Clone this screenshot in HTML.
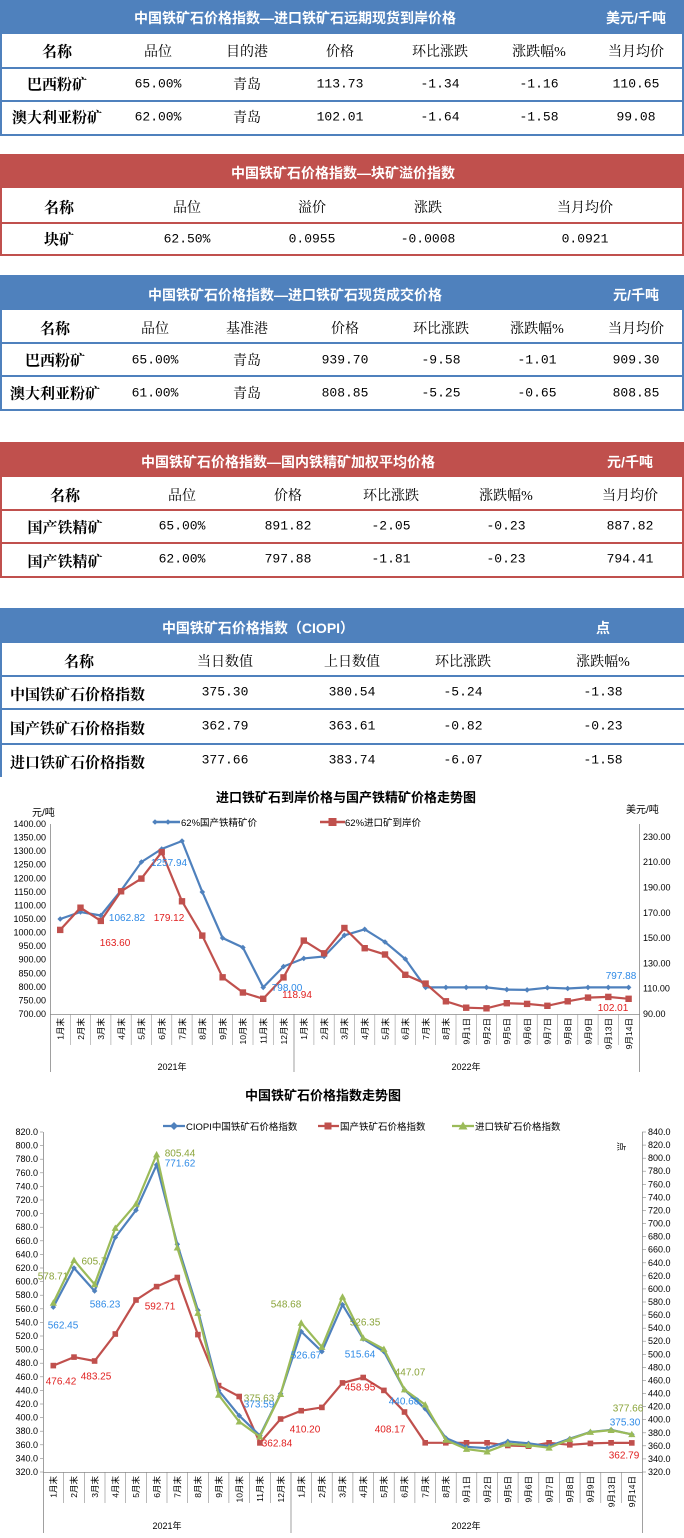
<!DOCTYPE html>
<html><head><meta charset="utf-8">
<style>
body{margin:0;width:684px;height:1538px;background:#fff;position:relative;overflow:hidden;font-family:"Liberation Serif","Noto Serif CJK SC",serif;}
.c{position:absolute;transform:translate(-50%,-50%);white-space:nowrap;font-size:14px;color:#000;}
.n{font-family:"Liberation Mono","Noto Serif CJK SC",monospace;font-size:13px;}
.b{font-weight:bold;font-size:15px;}
.l{position:absolute;transform:translateY(-50%);white-space:nowrap;font-weight:bold;font-size:15px;}
.bar{position:absolute;left:0;width:684px;}
.w{color:#fff;font-weight:bold;font-family:"Liberation Sans","Noto Sans CJK SC",sans-serif;font-size:14px;}
.h{position:absolute;left:0;width:684px;height:1.5px;}
.v{position:absolute;width:1.5px;}
svg{position:absolute;left:0;top:0;}
</style></head><body>

<!-- Table 1 -->
<div class="bar" style="top:0;height:34px;background:#4f81bd"></div>
<div class="c w" style="left:295px;top:18px">中国铁矿石价格指数—进口铁矿石远期现货到岸价格</div>
<div class="c w" style="left:636px;top:18px">美元/千吨</div>
<div class="v" style="left:0;top:34px;height:101px;background:#4f81bd"></div>
<div class="v" style="left:682px;top:34px;height:101px;background:#4f81bd"></div>
<div class="h" style="top:67px;background:#4f81bd"></div>
<div class="h" style="top:100px;background:#4f81bd"></div>
<div class="h" style="top:134px;background:#4f81bd"></div>
<div class="c b" style="left:57px;top:51px">名称</div>
<div class="c" style="left:158px;top:51px">品位</div>
<div class="c" style="left:247px;top:51px">目的港</div>
<div class="c" style="left:340px;top:51px">价格</div>
<div class="c" style="left:440px;top:51px">环比涨跌</div>
<div class="c" style="left:539px;top:51px">涨跌幅%</div>
<div class="c" style="left:636px;top:51px">当月均价</div>
<div class="c b" style="left:57px;top:84px">巴西粉矿</div>
<div class="c n" style="left:158px;top:84px">65.00%</div>
<div class="c" style="left:247px;top:84px">青岛</div>
<div class="c n" style="left:340px;top:84px">113.73</div>
<div class="c n" style="left:440px;top:84px">-1.34</div>
<div class="c n" style="left:539px;top:84px">-1.16</div>
<div class="c n" style="left:636px;top:84px">110.65</div>
<div class="c b" style="left:57px;top:117px">澳大利亚粉矿</div>
<div class="c n" style="left:158px;top:117px">62.00%</div>
<div class="c" style="left:247px;top:117px">青岛</div>
<div class="c n" style="left:340px;top:117px">102.01</div>
<div class="c n" style="left:440px;top:117px">-1.64</div>
<div class="c n" style="left:539px;top:117px">-1.58</div>
<div class="c n" style="left:636px;top:117px">99.08</div>

<!-- Table 2 -->
<div class="bar" style="top:154px;height:34px;background:#c0504d"></div>
<div class="c w" style="left:343px;top:173px">中国铁矿石价格指数—块矿溢价指数</div>
<div class="v" style="left:0;top:188px;height:68px;background:#c0504d"></div>
<div class="v" style="left:682px;top:188px;height:68px;background:#c0504d"></div>
<div class="h" style="top:222px;background:#c0504d"></div>
<div class="h" style="top:254px;background:#c0504d"></div>
<div class="c b" style="left:59px;top:207px">名称</div>
<div class="c" style="left:187px;top:207px">品位</div>
<div class="c" style="left:312px;top:207px">溢价</div>
<div class="c" style="left:428px;top:207px">涨跌</div>
<div class="c" style="left:585px;top:207px">当月均价</div>
<div class="c b" style="left:59px;top:239px">块矿</div>
<div class="c n" style="left:187px;top:239px">62.50%</div>
<div class="c n" style="left:312px;top:239px">0.0955</div>
<div class="c n" style="left:428px;top:239px">-0.0008</div>
<div class="c n" style="left:585px;top:239px">0.0921</div>

<!-- Table 3 -->
<div class="bar" style="top:275px;height:35px;background:#4f81bd"></div>
<div class="c w" style="left:295px;top:295px">中国铁矿石价格指数—进口铁矿石现货成交价格</div>
<div class="c w" style="left:636px;top:295px">元/千吨</div>
<div class="v" style="left:0;top:310px;height:100px;background:#4f81bd"></div>
<div class="v" style="left:682px;top:310px;height:100px;background:#4f81bd"></div>
<div class="h" style="top:342px;background:#4f81bd"></div>
<div class="h" style="top:375px;background:#4f81bd"></div>
<div class="h" style="top:409px;background:#4f81bd"></div>
<div class="c b" style="left:55px;top:328px">名称</div>
<div class="c" style="left:155px;top:328px">品位</div>
<div class="c" style="left:247px;top:328px">基准港</div>
<div class="c" style="left:345px;top:328px">价格</div>
<div class="c" style="left:441px;top:328px">环比涨跌</div>
<div class="c" style="left:537px;top:328px">涨跌幅%</div>
<div class="c" style="left:636px;top:328px">当月均价</div>
<div class="c b" style="left:55px;top:360px">巴西粉矿</div>
<div class="c n" style="left:155px;top:360px">65.00%</div>
<div class="c" style="left:247px;top:360px">青岛</div>
<div class="c n" style="left:345px;top:360px">939.70</div>
<div class="c n" style="left:441px;top:360px">-9.58</div>
<div class="c n" style="left:537px;top:360px">-1.01</div>
<div class="c n" style="left:636px;top:360px">909.30</div>
<div class="c b" style="left:55px;top:393px">澳大利亚粉矿</div>
<div class="c n" style="left:155px;top:393px">61.00%</div>
<div class="c" style="left:247px;top:393px">青岛</div>
<div class="c n" style="left:345px;top:393px">808.85</div>
<div class="c n" style="left:441px;top:393px">-5.25</div>
<div class="c n" style="left:537px;top:393px">-0.65</div>
<div class="c n" style="left:636px;top:393px">808.85</div>

<!-- Table 4 -->
<div class="bar" style="top:442px;height:35px;background:#c0504d"></div>
<div class="c w" style="left:288px;top:462px">中国铁矿石价格指数—国内铁精矿加权平均价格</div>
<div class="c w" style="left:630px;top:462px">元/千吨</div>
<div class="v" style="left:0;top:477px;height:100px;background:#c0504d"></div>
<div class="v" style="left:682px;top:477px;height:100px;background:#c0504d"></div>
<div class="h" style="top:509px;background:#c0504d"></div>
<div class="h" style="top:542px;background:#c0504d"></div>
<div class="h" style="top:576px;background:#c0504d"></div>
<div class="c b" style="left:65px;top:495px">名称</div>
<div class="c" style="left:182px;top:495px">品位</div>
<div class="c" style="left:288px;top:495px">价格</div>
<div class="c" style="left:391px;top:495px">环比涨跌</div>
<div class="c" style="left:506px;top:495px">涨跌幅%</div>
<div class="c" style="left:630px;top:495px">当月均价</div>
<div class="c b" style="left:65px;top:527px">国产铁精矿</div>
<div class="c n" style="left:182px;top:526px">65.00%</div>
<div class="c n" style="left:288px;top:526px">891.82</div>
<div class="c n" style="left:391px;top:526px">-2.05</div>
<div class="c n" style="left:506px;top:526px">-0.23</div>
<div class="c n" style="left:630px;top:526px">887.82</div>
<div class="c b" style="left:65px;top:561px">国产铁精矿</div>
<div class="c n" style="left:182px;top:559px">62.00%</div>
<div class="c n" style="left:288px;top:559px">797.88</div>
<div class="c n" style="left:391px;top:559px">-1.81</div>
<div class="c n" style="left:506px;top:559px">-0.23</div>
<div class="c n" style="left:630px;top:559px">794.41</div>

<!-- Table 5 -->
<div class="bar" style="top:608px;height:35px;background:#4f81bd"></div>
<div class="c w" style="left:258px;top:628px">中国铁矿石价格指数（CIOPI）</div>
<div class="c w" style="left:603px;top:628px">点</div>
<div class="v" style="left:0;top:643px;height:134px;background:#4f81bd"></div>
<div class="h" style="top:675px;background:#4f81bd"></div>
<div class="h" style="top:708px;background:#4f81bd"></div>
<div class="h" style="top:743px;background:#4f81bd"></div>
<div class="c b" style="left:79px;top:661px">名称</div>
<div class="c" style="left:225px;top:661px">当日数值</div>
<div class="c" style="left:352px;top:661px">上日数值</div>
<div class="c" style="left:463px;top:661px">环比涨跌</div>
<div class="c" style="left:603px;top:661px">涨跌幅%</div>
<div class="l" style="left:10px;top:694px">中国铁矿石价格指数</div>
<div class="c n" style="left:225px;top:692px">375.30</div>
<div class="c n" style="left:352px;top:692px">380.54</div>
<div class="c n" style="left:463px;top:692px">-5.24</div>
<div class="c n" style="left:603px;top:692px">-1.38</div>
<div class="l" style="left:10px;top:728px">国产铁矿石价格指数</div>
<div class="c n" style="left:225px;top:726px">362.79</div>
<div class="c n" style="left:352px;top:726px">363.61</div>
<div class="c n" style="left:463px;top:726px">-0.82</div>
<div class="c n" style="left:603px;top:726px">-0.23</div>
<div class="l" style="left:10px;top:762px">进口铁矿石价格指数</div>
<div class="c n" style="left:225px;top:760px">377.66</div>
<div class="c n" style="left:352px;top:760px">383.74</div>
<div class="c n" style="left:463px;top:760px">-6.07</div>
<div class="c n" style="left:603px;top:760px">-1.58</div>

<svg width="684" height="1538" viewBox="0 0 684 1538" font-family="'Liberation Sans','Noto Sans CJK SC',sans-serif">
<defs>
<marker id="dia" viewBox="-5 -5 10 10" markerWidth="7" markerHeight="7" markerUnits="userSpaceOnUse"><path d="M0-4L4 0 0 4-4 0Z" fill="#4f81bd"/></marker>
<marker id="sq" viewBox="-5 -5 10 10" markerWidth="8" markerHeight="8" markerUnits="userSpaceOnUse"><rect x="-4" y="-4" width="8" height="8" fill="#c0504d"/></marker>
<marker id="sq2" viewBox="-5 -5 10 10" markerWidth="7" markerHeight="7" markerUnits="userSpaceOnUse"><rect x="-4" y="-4" width="8" height="8" fill="#c0504d"/></marker>
<marker id="tri" viewBox="-5 -5 10 10" markerWidth="8" markerHeight="8" markerUnits="userSpaceOnUse"><path d="M0-4.5L4.5 3.5-4.5 3.5Z" fill="#9bbb59"/></marker>
</defs>

<!-- Chart 1 -->
<text x="346" y="802" text-anchor="middle" font-size="13" font-weight="bold">进口铁矿石到岸价格与国产铁精矿价格走势图</text>
<text x="32" y="816" font-size="10">元/吨</text>
<text x="626" y="813" font-size="10">美元/吨</text>
<line x1="155" y1="822" x2="180" y2="822" stroke="#4f81bd" stroke-width="2.5" marker-mid="url(#dia)" marker-start="url(#dia)"/>
<line x1="155" y1="822" x2="168" y2="822" stroke="none" marker-end="url(#dia)"/>
<text x="181" y="826" font-size="9.5">62%国产铁精矿价</text>
<line x1="320" y1="822" x2="345" y2="822" stroke="#c0504d" stroke-width="2.5"/>
<rect x="328.5" y="818" width="8" height="8" fill="#c0504d"/>
<text x="345" y="826" font-size="9.5">62%进口矿到岸价</text>
<g stroke="#888" stroke-width="0.8" fill="none">
<line x1="50.5" y1="824" x2="50.5" y2="1072"/>
<line x1="639.5" y1="824" x2="639.5" y2="1072"/>
<line x1="50" y1="1014.5" x2="640" y2="1014.5"/>
<line x1="294" y1="1014" x2="294" y2="1072"/>
</g>
<g stroke="#999" stroke-width="0.6">
<line x1="70.3" y1="1014" x2="70.3" y2="1045"/><line x1="90.6" y1="1014" x2="90.6" y2="1045"/><line x1="110.9" y1="1014" x2="110.9" y2="1045"/><line x1="131.2" y1="1014" x2="131.2" y2="1045"/><line x1="151.5" y1="1014" x2="151.5" y2="1045"/><line x1="171.8" y1="1014" x2="171.8" y2="1045"/><line x1="192.1" y1="1014" x2="192.1" y2="1045"/><line x1="212.4" y1="1014" x2="212.4" y2="1045"/><line x1="232.7" y1="1014" x2="232.7" y2="1045"/><line x1="253" y1="1014" x2="253" y2="1045"/><line x1="273.3" y1="1014" x2="273.3" y2="1045"/><line x1="313.9" y1="1014" x2="313.9" y2="1045"/><line x1="334.2" y1="1014" x2="334.2" y2="1045"/><line x1="354.5" y1="1014" x2="354.5" y2="1045"/><line x1="374.8" y1="1014" x2="374.8" y2="1045"/><line x1="395.1" y1="1014" x2="395.1" y2="1045"/><line x1="415.4" y1="1014" x2="415.4" y2="1045"/><line x1="435.7" y1="1014" x2="435.7" y2="1045"/><line x1="456" y1="1014" x2="456" y2="1045"/><line x1="476.3" y1="1014" x2="476.3" y2="1045"/><line x1="496.6" y1="1014" x2="496.6" y2="1045"/><line x1="516.9" y1="1014" x2="516.9" y2="1045"/><line x1="537.2" y1="1014" x2="537.2" y2="1045"/><line x1="557.5" y1="1014" x2="557.5" y2="1045"/><line x1="577.8" y1="1014" x2="577.8" y2="1045"/><line x1="598.1" y1="1014" x2="598.1" y2="1045"/><line x1="618.4" y1="1014" x2="618.4" y2="1045"/>
</g>
<g font-size="9" text-anchor="end">
<text x="46" y="1017">700.00</text><text x="46" y="1003.4">750.00</text><text x="46" y="989.9">800.00</text><text x="46" y="976.3">850.00</text><text x="46" y="962.7">900.00</text><text x="46" y="949.2">950.00</text><text x="46" y="935.6">1000.00</text><text x="46" y="922">1050.00</text><text x="46" y="908.4">1100.00</text><text x="46" y="894.9">1150.00</text><text x="46" y="881.3">1200.00</text><text x="46" y="867.7">1250.00</text><text x="46" y="854.2">1300.00</text><text x="46" y="840.6">1350.00</text><text x="46" y="827">1400.00</text>
</g>
<g font-size="9">
<text x="643" y="1017">90.00</text><text x="643" y="991.7">110.00</text><text x="643" y="966.4">130.00</text><text x="643" y="941.1">150.00</text><text x="643" y="915.8">170.00</text><text x="643" y="890.5">190.00</text><text x="643" y="865.2">210.00</text><text x="643" y="839.9">230.00</text>
</g>
<g font-size="8.5" text-anchor="end">
<text transform="translate(63.5,1018) rotate(-90)">1月末</text><text transform="translate(83.8,1018) rotate(-90)">2月末</text><text transform="translate(104.1,1018) rotate(-90)">3月末</text><text transform="translate(124.4,1018) rotate(-90)">4月末</text><text transform="translate(144.7,1018) rotate(-90)">5月末</text><text transform="translate(165,1018) rotate(-90)">6月末</text><text transform="translate(185.3,1018) rotate(-90)">7月末</text><text transform="translate(205.6,1018) rotate(-90)">8月末</text><text transform="translate(225.9,1018) rotate(-90)">9月末</text><text transform="translate(246.2,1018) rotate(-90)">10月末</text><text transform="translate(266.5,1018) rotate(-90)">11月末</text><text transform="translate(286.8,1018) rotate(-90)">12月末</text>
<text transform="translate(307.1,1018) rotate(-90)">1月末</text><text transform="translate(327.4,1018) rotate(-90)">2月末</text><text transform="translate(347.7,1018) rotate(-90)">3月末</text><text transform="translate(368,1018) rotate(-90)">4月末</text><text transform="translate(388.3,1018) rotate(-90)">5月末</text><text transform="translate(408.6,1018) rotate(-90)">6月末</text><text transform="translate(428.9,1018) rotate(-90)">7月末</text><text transform="translate(449.2,1018) rotate(-90)">8月末</text><text transform="translate(469.5,1018) rotate(-90)">9月1日</text><text transform="translate(489.8,1018) rotate(-90)">9月2日</text><text transform="translate(510.1,1018) rotate(-90)">9月5日</text><text transform="translate(530.4,1018) rotate(-90)">9月6日</text><text transform="translate(550.7,1018) rotate(-90)">9月7日</text><text transform="translate(571,1018) rotate(-90)">9月8日</text><text transform="translate(591.3,1018) rotate(-90)">9月9日</text><text transform="translate(611.6,1018) rotate(-90)">9月13日</text><text transform="translate(631.9,1018) rotate(-90)">9月14日</text>
</g>
<text x="172" y="1070" font-size="9" text-anchor="middle">2021年</text>
<text x="466" y="1070" font-size="9" text-anchor="middle">2022年</text>
<polyline fill="none" stroke="#4f81bd" stroke-width="2.2" marker-start="url(#dia)" marker-mid="url(#dia)" marker-end="url(#dia)" points="60.2,919 80.5,912 100.8,915.5 121.1,890.5 141.4,862 161.7,849 182,841 202.3,892 222.6,938 242.9,947.5 263.2,987.4 283.5,966.5 303.8,958.4 324.1,956.5 344.4,935.3 364.7,929.3 385,942 405.3,959 425.6,987.4 445.9,987.4 466.2,987.4 486.5,987.4 506.8,989.6 527.1,989.9 547.4,987.7 567.7,988.5 588,987.4 608.3,987.4 628.6,987.4"/>
<polyline fill="none" stroke="#c0504d" stroke-width="2.2" marker-start="url(#sq)" marker-mid="url(#sq)" marker-end="url(#sq)" points="60.2,929.9 80.5,907.7 100.8,920.9 121.1,891.3 141.4,878.6 161.7,852.1 182,901.3 202.3,935.6 222.6,977.3 242.9,992.5 263.2,998.8 283.5,977.4 303.8,940.6 324.1,953.3 344.4,928 364.7,948.2 385,954.5 405.3,974.8 425.6,983.6 445.9,1001.3 466.2,1007.7 486.5,1008.3 506.8,1003.2 527.1,1003.9 547.4,1005.8 567.7,1001.3 588,997.6 608.3,996.9 628.6,998.8"/>
<g font-size="10" text-anchor="middle">
<text x="127" y="921" fill="#2e8ae6">1062.82</text>
<text x="169" y="866" fill="#2e8ae6">1257.94</text>
<text x="115" y="946" fill="#e02020">163.60</text>
<text x="169" y="921" fill="#e02020">179.12</text>
<text x="287" y="991" fill="#2e8ae6">798.00</text>
<text x="297" y="998" fill="#e02020">118.94</text>
<text x="621" y="979" fill="#2e8ae6">797.88</text>
<text x="613" y="1011" fill="#e02020">102.01</text>
</g>

<!-- Chart 2 -->
<text x="323" y="1100" text-anchor="middle" font-size="13" font-weight="bold">中国铁矿石价格指数走势图</text>
<line x1="163" y1="1126" x2="185" y2="1126" stroke="#4f81bd" stroke-width="2.2"/>
<path d="M174 1122L178 1126 174 1130 170 1126Z" fill="#4f81bd"/>
<text x="186" y="1130" font-size="9.5">CIOPI中国铁矿石价格指数</text>
<line x1="318" y1="1126" x2="339" y2="1126" stroke="#c0504d" stroke-width="2.2"/>
<rect x="324.5" y="1122.5" width="7" height="7" fill="#c0504d"/>
<text x="340" y="1130" font-size="9.5">国产铁矿石价格指数</text>
<line x1="452" y1="1126" x2="474" y2="1126" stroke="#9bbb59" stroke-width="2.2"/>
<path d="M463 1121.5L467.5 1129.5 458.5 1129.5Z" fill="#9bbb59"/>
<text x="475" y="1130" font-size="9.5">进口铁矿石价格指数</text>
<text transform="translate(618,1142) rotate(90)" font-size="9">点</text>
<g stroke="#888" stroke-width="0.8" fill="none">
<line x1="43.5" y1="1132" x2="43.5" y2="1533"/>
<line x1="642.5" y1="1132" x2="642.5" y2="1533"/>
<line x1="43" y1="1472.5" x2="643" y2="1472.5"/>
<line x1="291" y1="1472" x2="291" y2="1533"/>
</g>
<g stroke="#888" stroke-width="0.6">
<line x1="40" y1="1472" x2="43" y2="1472"/><line x1="40" y1="1458.4" x2="43" y2="1458.4"/><line x1="40" y1="1444.8" x2="43" y2="1444.8"/><line x1="40" y1="1431.2" x2="43" y2="1431.2"/><line x1="40" y1="1417.6" x2="43" y2="1417.6"/><line x1="40" y1="1404" x2="43" y2="1404"/><line x1="40" y1="1390.4" x2="43" y2="1390.4"/><line x1="40" y1="1376.8" x2="43" y2="1376.8"/><line x1="40" y1="1363.2" x2="43" y2="1363.2"/><line x1="40" y1="1349.6" x2="43" y2="1349.6"/><line x1="40" y1="1336" x2="43" y2="1336"/><line x1="40" y1="1322.4" x2="43" y2="1322.4"/><line x1="40" y1="1308.8" x2="43" y2="1308.8"/><line x1="40" y1="1295.2" x2="43" y2="1295.2"/><line x1="40" y1="1281.6" x2="43" y2="1281.6"/><line x1="40" y1="1268" x2="43" y2="1268"/><line x1="40" y1="1254.4" x2="43" y2="1254.4"/><line x1="40" y1="1240.8" x2="43" y2="1240.8"/><line x1="40" y1="1227.2" x2="43" y2="1227.2"/><line x1="40" y1="1213.6" x2="43" y2="1213.6"/><line x1="40" y1="1200" x2="43" y2="1200"/><line x1="40" y1="1186.4" x2="43" y2="1186.4"/><line x1="40" y1="1172.8" x2="43" y2="1172.8"/><line x1="40" y1="1159.2" x2="43" y2="1159.2"/><line x1="40" y1="1145.6" x2="43" y2="1145.6"/><line x1="40" y1="1132" x2="43" y2="1132"/>
<line x1="642" y1="1472" x2="646" y2="1472"/><line x1="642" y1="1458.9" x2="646" y2="1458.9"/><line x1="642" y1="1445.8" x2="646" y2="1445.8"/><line x1="642" y1="1432.8" x2="646" y2="1432.8"/><line x1="642" y1="1419.7" x2="646" y2="1419.7"/><line x1="642" y1="1406.6" x2="646" y2="1406.6"/><line x1="642" y1="1393.5" x2="646" y2="1393.5"/><line x1="642" y1="1380.5" x2="646" y2="1380.5"/><line x1="642" y1="1367.4" x2="646" y2="1367.4"/><line x1="642" y1="1354.3" x2="646" y2="1354.3"/><line x1="642" y1="1341.2" x2="646" y2="1341.2"/><line x1="642" y1="1328.2" x2="646" y2="1328.2"/><line x1="642" y1="1315.1" x2="646" y2="1315.1"/><line x1="642" y1="1302" x2="646" y2="1302"/><line x1="642" y1="1288.9" x2="646" y2="1288.9"/><line x1="642" y1="1275.8" x2="646" y2="1275.8"/><line x1="642" y1="1262.8" x2="646" y2="1262.8"/><line x1="642" y1="1249.7" x2="646" y2="1249.7"/><line x1="642" y1="1236.6" x2="646" y2="1236.6"/><line x1="642" y1="1223.5" x2="646" y2="1223.5"/><line x1="642" y1="1210.5" x2="646" y2="1210.5"/><line x1="642" y1="1197.4" x2="646" y2="1197.4"/><line x1="642" y1="1184.3" x2="646" y2="1184.3"/><line x1="642" y1="1171.2" x2="646" y2="1171.2"/><line x1="642" y1="1158.2" x2="646" y2="1158.2"/><line x1="642" y1="1145.1" x2="646" y2="1145.1"/><line x1="642" y1="1132" x2="646" y2="1132"/>
<line x1="63.7" y1="1472" x2="63.7" y2="1503"/><line x1="84.3" y1="1472" x2="84.3" y2="1503"/><line x1="105" y1="1472" x2="105" y2="1503"/><line x1="125.6" y1="1472" x2="125.6" y2="1503"/><line x1="146.3" y1="1472" x2="146.3" y2="1503"/><line x1="167" y1="1472" x2="167" y2="1503"/><line x1="187.6" y1="1472" x2="187.6" y2="1503"/><line x1="208.3" y1="1472" x2="208.3" y2="1503"/><line x1="228.9" y1="1472" x2="228.9" y2="1503"/><line x1="249.6" y1="1472" x2="249.6" y2="1503"/><line x1="270.3" y1="1472" x2="270.3" y2="1503"/><line x1="311.6" y1="1472" x2="311.6" y2="1503"/><line x1="332.2" y1="1472" x2="332.2" y2="1503"/><line x1="352.9" y1="1472" x2="352.9" y2="1503"/><line x1="373.5" y1="1472" x2="373.5" y2="1503"/><line x1="394.2" y1="1472" x2="394.2" y2="1503"/><line x1="414.9" y1="1472" x2="414.9" y2="1503"/><line x1="435.5" y1="1472" x2="435.5" y2="1503"/><line x1="456.2" y1="1472" x2="456.2" y2="1503"/><line x1="476.8" y1="1472" x2="476.8" y2="1503"/><line x1="497.5" y1="1472" x2="497.5" y2="1503"/><line x1="518.1" y1="1472" x2="518.1" y2="1503"/><line x1="538.8" y1="1472" x2="538.8" y2="1503"/><line x1="559.5" y1="1472" x2="559.5" y2="1503"/><line x1="580.1" y1="1472" x2="580.1" y2="1503"/><line x1="600.8" y1="1472" x2="600.8" y2="1503"/><line x1="621.4" y1="1472" x2="621.4" y2="1503"/>
</g>
<g font-size="9" text-anchor="end">
<text x="38" y="1475">320.0</text><text x="38" y="1461.4">340.0</text><text x="38" y="1447.8">360.0</text><text x="38" y="1434.2">380.0</text><text x="38" y="1420.6">400.0</text><text x="38" y="1407">420.0</text><text x="38" y="1393.4">440.0</text><text x="38" y="1379.8">460.0</text><text x="38" y="1366.2">480.0</text><text x="38" y="1352.6">500.0</text><text x="38" y="1339">520.0</text><text x="38" y="1325.4">540.0</text><text x="38" y="1311.8">560.0</text><text x="38" y="1298.2">580.0</text><text x="38" y="1284.6">600.0</text><text x="38" y="1271">620.0</text><text x="38" y="1257.4">640.0</text><text x="38" y="1243.8">660.0</text><text x="38" y="1230.2">680.0</text><text x="38" y="1216.6">700.0</text><text x="38" y="1203">720.0</text><text x="38" y="1189.4">740.0</text><text x="38" y="1175.8">760.0</text><text x="38" y="1162.2">780.0</text><text x="38" y="1148.6">800.0</text><text x="38" y="1135">820.0</text>
</g>
<g font-size="9">
<text x="648" y="1475">320.0</text><text x="648" y="1461.9">340.0</text><text x="648" y="1448.8">360.0</text><text x="648" y="1435.8">380.0</text><text x="648" y="1422.7">400.0</text><text x="648" y="1409.6">420.0</text><text x="648" y="1396.5">440.0</text><text x="648" y="1383.5">460.0</text><text x="648" y="1370.4">480.0</text><text x="648" y="1357.3">500.0</text><text x="648" y="1344.2">520.0</text><text x="648" y="1331.2">540.0</text><text x="648" y="1318.1">560.0</text><text x="648" y="1305">580.0</text><text x="648" y="1291.9">600.0</text><text x="648" y="1278.8">620.0</text><text x="648" y="1265.8">640.0</text><text x="648" y="1252.7">660.0</text><text x="648" y="1239.6">680.0</text><text x="648" y="1226.5">700.0</text><text x="648" y="1213.5">720.0</text><text x="648" y="1200.4">740.0</text><text x="648" y="1187.3">760.0</text><text x="648" y="1174.2">780.0</text><text x="648" y="1161.2">800.0</text><text x="648" y="1148.1">820.0</text><text x="648" y="1135">840.0</text>
</g>
<g font-size="8.5" text-anchor="end">
<text transform="translate(56.5,1476) rotate(-90)">1月末</text><text transform="translate(77.2,1476) rotate(-90)">2月末</text><text transform="translate(97.8,1476) rotate(-90)">3月末</text><text transform="translate(118.5,1476) rotate(-90)">4月末</text><text transform="translate(139.2,1476) rotate(-90)">5月末</text><text transform="translate(159.8,1476) rotate(-90)">6月末</text><text transform="translate(180.5,1476) rotate(-90)">7月末</text><text transform="translate(201.1,1476) rotate(-90)">8月末</text><text transform="translate(221.8,1476) rotate(-90)">9月末</text><text transform="translate(242.4,1476) rotate(-90)">10月末</text><text transform="translate(263.1,1476) rotate(-90)">11月末</text><text transform="translate(283.8,1476) rotate(-90)">12月末</text>
<text transform="translate(304.4,1476) rotate(-90)">1月末</text><text transform="translate(325.1,1476) rotate(-90)">2月末</text><text transform="translate(345.7,1476) rotate(-90)">3月末</text><text transform="translate(366.4,1476) rotate(-90)">4月末</text><text transform="translate(387.1,1476) rotate(-90)">5月末</text><text transform="translate(407.7,1476) rotate(-90)">6月末</text><text transform="translate(428.4,1476) rotate(-90)">7月末</text><text transform="translate(449,1476) rotate(-90)">8月末</text><text transform="translate(469.7,1476) rotate(-90)">9月1日</text><text transform="translate(490.3,1476) rotate(-90)">9月2日</text><text transform="translate(511,1476) rotate(-90)">9月5日</text><text transform="translate(531.7,1476) rotate(-90)">9月6日</text><text transform="translate(552.3,1476) rotate(-90)">9月7日</text><text transform="translate(573,1476) rotate(-90)">9月8日</text><text transform="translate(593.6,1476) rotate(-90)">9月9日</text><text transform="translate(614.3,1476) rotate(-90)">9月13日</text><text transform="translate(635,1476) rotate(-90)">9月14日</text>
</g>
<text x="167" y="1529" font-size="9" text-anchor="middle">2021年</text>
<text x="466" y="1529" font-size="9" text-anchor="middle">2022年</text>
<polyline fill="none" stroke="#c0504d" stroke-width="2.2" marker-start="url(#sq2)" marker-mid="url(#sq2)" marker-end="url(#sq2)" points="53.3,1365.6 74,1357.1 94.6,1361 115.3,1334 136,1300 156.6,1286.6 177.3,1277.5 197.9,1334.6 218.6,1385.6 239.2,1396.5 259.9,1442.9 280.6,1419 301.2,1410.7 321.9,1407.4 342.5,1382.9 363.2,1377.5 383.9,1390.4 404.5,1412 425.2,1442.8 445.8,1442.8 466.5,1442.8 487.1,1442.8 507.8,1445.5 528.5,1446.2 549.1,1442.8 569.8,1444.8 590.4,1443.4 611.1,1442.8 631.8,1442.9"/>
<polyline fill="none" stroke="#4f81bd" stroke-width="2.2" marker-start="url(#dia)" marker-mid="url(#dia)" marker-end="url(#dia)" points="53.3,1307.1 74,1268 94.6,1291 115.3,1237.4 136,1210.2 156.6,1164.9 177.3,1244.2 197.9,1310.2 218.6,1390.4 239.2,1415.6 259.9,1435.6 280.6,1393.8 301.2,1331.5 321.9,1351.6 342.5,1304.7 363.2,1339 383.9,1351.6 404.5,1389.9 425.2,1408.8 445.8,1438 466.5,1446.8 487.1,1448.2 507.8,1441.4 528.5,1443.4 549.1,1446.2 569.8,1438.7 590.4,1431.9 611.1,1429.8 631.8,1434.4"/>
<polyline fill="none" stroke="#9bbb59" stroke-width="2.2" marker-start="url(#tri)" marker-mid="url(#tri)" marker-end="url(#tri)" points="53.3,1302.9 74,1260.2 94.6,1284.4 115.3,1228.1 136,1204 156.6,1154.6 177.3,1247.7 197.9,1313.1 218.6,1394.9 239.2,1421.7 259.9,1436.7 280.6,1394.2 301.2,1322.9 321.9,1347.1 342.5,1296.8 363.2,1338 383.9,1349.1 404.5,1389.6 425.2,1404.7 445.8,1440 466.5,1449.1 487.1,1451.7 507.8,1443.9 528.5,1445.2 549.1,1447.8 569.8,1439.3 590.4,1432.1 611.1,1430.2 631.8,1434.3"/>
<g font-size="10" text-anchor="middle" dominant-baseline="central">
<text x="53" y="1277" fill="#8aa43a">578.71</text>
<text x="94" y="1262" fill="#8aa43a">605.7</text>
<text x="180" y="1154" fill="#8aa43a">805.44</text>
<text x="180" y="1164" fill="#2e8ae6">771.62</text>
<text x="63" y="1326" fill="#2e8ae6">562.45</text>
<text x="105" y="1305" fill="#2e8ae6">586.23</text>
<text x="160" y="1307" fill="#e02020">592.71</text>
<text x="61" y="1382" fill="#e02020">476.42</text>
<text x="96" y="1377" fill="#e02020">483.25</text>
<text x="259" y="1399" fill="#8aa43a">375.63</text>
<text x="259" y="1405" fill="#2e8ae6">373.59</text>
<text x="277" y="1444" fill="#e02020">362.84</text>
<text x="286" y="1305" fill="#8aa43a">548.68</text>
<text x="306" y="1356" fill="#2e8ae6">526.67</text>
<text x="305" y="1430" fill="#e02020">410.20</text>
<text x="365" y="1323" fill="#8aa43a">526.35</text>
<text x="360" y="1355" fill="#2e8ae6">515.64</text>
<text x="360" y="1388" fill="#e02020">458.95</text>
<text x="390" y="1430" fill="#e02020">408.17</text>
<text x="410" y="1373" fill="#8aa43a">447.07</text>
<text x="404" y="1402" fill="#2e8ae6">440.68</text>
<text x="628" y="1409" fill="#8aa43a">377.66</text>
<text x="625" y="1423" fill="#2e8ae6">375.30</text>
<text x="624" y="1456" fill="#e02020">362.79</text>
</g>
</svg>
</body></html>
